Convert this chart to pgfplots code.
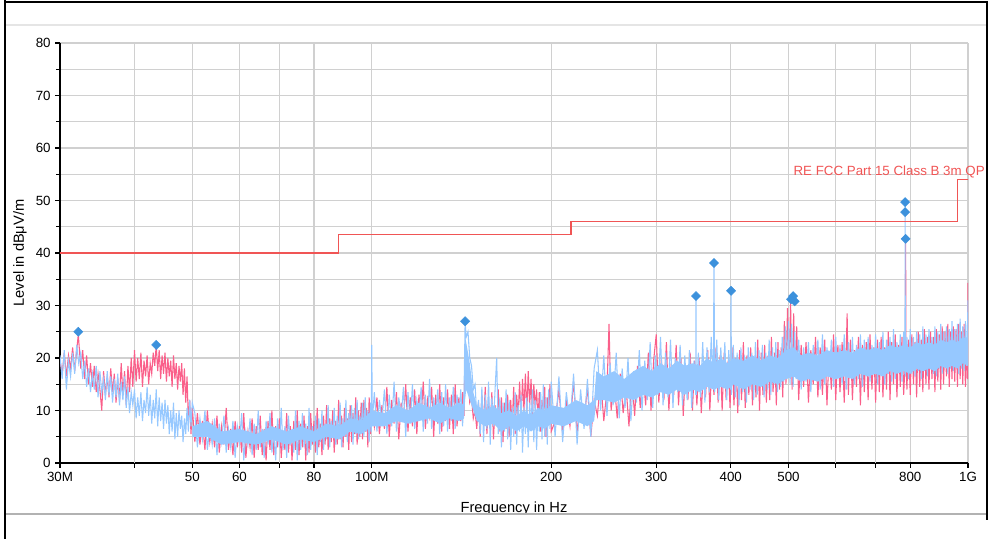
\documentclass[border=0pt]{standalone}
\usepackage{fontspec}
\setmainfont{Liberation Sans}
\usepackage{pgfplots}
\pgfplotsset{compat=1.18}
\definecolor{limred}{RGB}{240,85,85}
\definecolor{pinkt}{RGB}{250,95,138}
\definecolor{bluet}{RGB}{150,200,255}
\definecolor{markb}{RGB}{60,145,220}
\definecolor{gridc}{RGB}{208,208,208}
\begin{document}
\begin{tikzpicture}
\useasboundingbox (0,0) rectangle (741pt,-404.25pt);
\begin{axis}[
 at={(45pt,-347.25pt)}, anchor=south west,
 scale only axis, width=681pt, height=315pt,
 xmode=log, xmin=30, xmax=1000, ymin=0, ymax=80,
 axis x line*=bottom, axis y line*=left,
 axis line style={black, line width=0.9pt, -},
 xtick={30,50,60,80,100,200,300,400,500,800,1000},
 xticklabels={30M,50,60,80,100M,200,300,400,500,800,1G},
 extra x ticks={40,70,600,700},
 extra x tick labels={},
 extra x tick style={grid=major},
 minor xtick={},
 ytick={0,10,...,80},
 minor ytick={5,15,...,75},
 grid=both,
 major grid style={draw=gridc, line width=1pt},
 minor grid style={draw=gridc, line width=1pt},
 tick align=outside,
 major tick length=3.5pt, minor tick length=3pt,
 tick style={draw=black, line width=0.8pt},
 ticklabel style={font=\fontsize{10}{12}\selectfont},
 /pgf/number format/assume math mode=true,
 xlabel={Frequency in Hz}, ylabel={Level in dBμV/m},
 label style={font=\fontsize{11}{13}\selectfont},
 xlabel style={at={(axis description cs:0.5,-0.1167)}, anchor=base},
 ylabel style={at={(axis description cs:-0.044,0.5)}, anchor=center},
]
% pink trace
\addplot[draw=pinkt, line width=0.8pt] coordinates {
(30,19.5)(30.25,17)(30.5,21)(30.75,16.5)(31,20.5)(31.25,18)(31.5,22)(31.75,17.5)(32,21.5)(32.2,24.5)(32.5,18)(32.75,21.5)(33,16)(33.25,20.5)(33.5,15)(33.75,19)(34,14.5)(34.25,18.5)(34.5,13.5)(34.75,17)(35,14)(35.25,10)(35.5,17.5)(35.75,13)(36,16.5)(36.25,12.5)(36.5,18)(36.75,13.5)(37,17)(37.25,11.5)(37.5,16)(37.75,12)(38,19)(38.25,13)(38.5,17.5)(38.75,11)(39,18.5)(39.25,13.5)(39.5,20)(39.75,14.5)(40,21.5)(40.25,15.5)(40.5,20)(40.75,16)(41,21)(41.25,14.5)(41.5,19.5)(41.75,16.5)(42,20.5)(42.25,15)(42.5,19)(42.75,17)(43,21)(43.25,18.5)(43.5,22.5)(43.75,17.5)(44,21.5)(44.25,16)(44.5,20.5)(44.75,17)(45,21)(45.25,15.5)(45.5,20)(45.75,16.5)(46,19.5)(46.25,14.5)(46.5,20.5)(46.75,16)(47,19)(47.25,14)(47.5,18.5)(47.75,15.5)(48,19)(48.25,13)(48.5,18)(48.75,11.5)(49,16.5)(49.25,8)(49.5,12)(49.75,5.5)(50,10.5)
(50.5,4)(51,9.5)(51.5,3.5)(52,8)(52.5,2.5)(53,10)(53.5,4)(54,7.5)(54.5,3)(55,9)(55.5,2)(56,7)(56.5,3.5)(57,10.5)(57.5,2.5)(58,6.5)(58.5,1.5)(59,8)(59.5,3)(60,7)(60.5,2)(61,9.5)(61.5,1)(62,6)(62.5,3)(63,8.5)(63.5,1)(64,7)(64.5,2.5)(65,9)(65.5,1.5)(66,6.5)(66.5,0.5)(67,8)(67.5,2.5)(68,10)(68.5,1.5)(69,7)(69.5,3)(70,8.5)(70.5,1)(71,6)(71.5,2.5)(72,9.5)(72.5,2)(73,7)(73.5,0.5)(74,8)(74.5,2.5)(75,10)(75.5,1.5)(76,7.5)(76.5,3)(77,9)(77.5,0.5)(78,7)(78.5,2)(79,9.5)(79.5,3.5)(80,8)(80.5,2)(81,10.5)(81.5,3)(82,7.5)(82.5,1.5)(83,9)(83.5,3.5)(84,11)(84.5,2.5)(85,8.5)(85.5,4)(86,10)(86.5,2)(87,8)(87.5,3.5)(88,12)(88.5,4.5)(89,9)(89.5,3)(90,10.5)(90.5,5)(91,8.5)(91.5,2.5)(92,11)(92.5,4)(93,9.5)(93.5,5.5)(94,12.5)(94.5,3.5)(95,10)(95.5,5)(96,11.5)(96.5,4.5)(97,12)(97.5,6)(98,10.5)(98.5,3)(99,12.5)(99.5,5.5)(100,11)
(101,7)(102,12.5)(103,5.5)(104,11)(105,6.5)(106,14.5)(107,5)(108,12)(109,7.5)(110,13.5)(111,4.5)(112,11.5)(113,8)(114,15)(115,6)(116,12.5)(117,7)(118,14)(119,5.5)(120,13)(121,8.5)(122,15.5)(123,6.5)(124,12)(125,9)(126,14.5)(127,5)(128,13)(129,7.5)(130,15)(131,6)(132,12.5)(133,8)(134,14)(135,6.5)(136,13)(137,5.5)(138,15)(139,7)(140,12.5)(141,8)(142,13.5)(142.8,9)(143.2,18)(144,15)(145,17)(146,11.5)(147,12.5)(148,8.5)(149,10)(150,6.5)(151,11.5)(152,5)(153,13)(154,7)(155,14.5)(156,5.5)(157,12)(158,6.5)(159,13.5)(160,4.5)(161,11)(162,7.5)(163,14)(164,6)(165,12.5)(166,4)(167,11.5)(168,6.5)(169,13)(170,5)(171,12)(172,7)(173,14.5)(174,5.5)(175,13)(176,9)(177,15.5)(178,8.5)(179,16)(180,10)(181,17)(182,9.5)(183,17.5)(184,11)(185,16)(186,9)(187,15)(188,10.5)(189,14)(190,8)(191,13.5)(192,6)(193,12)(194,9)(195,14.5)(196,5)(197,12.5)(198,7.5)(199,15)(200,6)
(203,8)(206,14)(209,5.5)(212,12)(215,7)(218,15.5)(221,6)(224,11)(227,8)(230,14.5)(233,5)(236,12)(239,9)(242,16)(245,8)(248,14)(250,26.5)(252,10)(255,15.5)(258,8.5)(261,17)(264,9.5)(267,14.5)(270,7)(273,16)(276,9)(279,18.5)(282,10.5)(285,17)(288,11)(291,21)(294,10)(297,19.5)(300,24.5)(303,11.5)(306,20)(309,12)(312,23)(315,10)(318,19)(321,13)(324,22.5)(327,11)(330,20)(333,9)(336,18.5)(339,12)(342,21)(345,10)(348,19.5)(351,11)(354,20)(357,9.5)(360,18)(363,12.5)(366,21.5)(369,10)(372,19)(375,13)(378,22)(381,11.5)(384,20.5)(387,10)(390,21)(393,12)(396,19.5)(399,10.5)(402,22)(405,11)(408,20)(411,9.5)(414,21.5)(417,12)(420,23)(423,10.5)(426,20.5)(429,13)(432,22)(435,11)(438,20)(441,12.5)(444,23.5)(447,10)(450,21)(453,13)(456,22.5)(459,11.5)(462,20.5)(465,12)(468,24)(471,13.5)(474,21)(477,11)(480,23)(483,14)(486,22)(489,12.5)(492,27)(495,15)(498,29.5)(501,17)(504,30.5)(507,14)(510,28.5)(513,16.5)(516,26)
(520,12)(525,22.5)(530,14.5)(535,23)(540,11.5)(545,21.5)(550,15)(555,24)(560,12.5)(565,22)(570,13)(575,23.5)(580,11)(585,21)(590,14)(595,24.5)(600,12)(605,22.5)(610,13.5)(615,23)(620,11.5)(625,22)(627,28.5)(630,13)(635,23.5)(640,12)(645,21.5)(650,14.5)(655,24)(660,11)(665,22.5)(670,13.5)(675,23)(680,12)(685,24.5)(690,14)(695,22)(700,11.5)(705,23.5)(710,13.5)(715,24)(720,12.5)(725,22)(730,14)(735,25)(740,12)(745,23)(750,15)(755,24.5)(760,12.5)(765,22.5)(770,14.5)(775,24)(780,13)(785,20)(786,42.7)(787,19)(790,14)(795,23.5)(800,13)(805,24.5)(810,15)(815,23)(820,12.5)(825,25)(830,14.5)(835,23.5)(840,13.5)(845,25.5)(850,15)(855,24)(860,14)(865,25)(870,16)(875,24)(880,13.5)(885,25.5)(890,15.5)(895,24.5)(900,14)(905,26)(910,15)(915,25)(920,16.5)(925,26.5)(930,14.5)(935,25)(940,16)(945,26)(950,15.5)(955,25.5)(960,14.5)(965,26.5)(970,16)(975,25)(980,15)(985,26.5)(990,14.5)(995,22)(998,16)(1000,34.3)
};
% blue core band (dense part of the blue trace)
\addplot[fill=bluet, draw=none] coordinates {
(50,7)(53,8)(56,6)(60,6.5)(64,5.5)(68,7)(72,6)(76,7)(80,6)(84,7.5)(88,7)(92,8.5)(96,8)(100,10)(105,9.5)(110,11)(115,10)(120,11.5)(125,10.5)(130,11.5)(135,10.5)(140,11.5)(142.8,11)(143.4,24)(144,23)(146,19)(148,13.5)(150,11)(155,10)(160,11)(165,9.5)(170,10)(175,9)(180,10)(185,9)(190,10.5)(195,10)(200,11)(210,10.5)(220,12)(230,11)(236,12)(238,17.5)(245,16.5)(255,17.5)(265,16)(275,17.5)(285,18.5)(295,17.5)(305,19)(315,18)(325,19.5)(335,18.5)(345,19)(355,18.5)(365,20)(375,19)(385,20)(395,19)(405,20)(420,19.5)(435,20.5)(450,19.5)(465,20.5)(480,20)(495,21.5)(510,22)(525,20.5)(540,21)(560,20.5)(580,21.5)(600,21)(620,21.5)(640,21)(660,22)(680,21.5)(700,22)(720,21.5)(740,22.5)(760,22)(780,22.5)(800,22)(820,23)(840,22.5)(860,23)(880,22.5)(900,23.5)(920,23)(940,23.5)(960,23)(980,24)(1000,23.5)
(1000,18.5)(980,19)(960,18)(940,18.5)(920,18)(900,18.5)(880,17.5)(860,18)(840,17.5)(820,18)(800,17)(780,17.5)(760,17)(740,17.5)(720,16.5)(700,17)(680,16.5)(660,17)(640,16)(620,16.5)(600,16)(580,16.5)(560,15.5)(540,16)(525,15.5)(510,16.5)(495,16)(480,15)(465,15.5)(450,14.5)(435,15)(420,14)(405,15)(395,14)(385,14.5)(375,14)(365,14.5)(355,13.5)(345,14)(335,13)(325,14)(315,13)(305,13.5)(295,12.5)(285,13)(275,12)(265,12.5)(255,11.5)(245,12)(238,12)(236,8)(230,7)(220,8)(210,7)(200,7.5)(195,6.5)(190,7)(185,6)(180,7)(175,6)(170,7)(165,6)(160,7.5)(155,7)(150,8)(148,10)(146,12)(144,14)(143.4,12)(142.8,8.5)(140,8)(135,8.5)(130,7.5)(125,8.5)(120,8)(115,7.5)(110,8)(105,7)(100,7)(96,5.5)(92,6)(88,4.5)(84,5)(80,4)(76,4.5)(72,3.5)(68,4.5)(64,3.5)(60,4)(56,3.5)(53,5)(50,5)
} --cycle;
% blue trace
\addplot[draw=bluet, line width=0.8pt] coordinates {
(30,20.5)(30.25,16)(30.5,21.5)(30.75,14)(31,19.5)(31.25,16.5)(31.5,21)(31.75,17)(32,22.5)(32.25,19)(32.5,21)(32.75,16)(33,19.5)(33.25,14.5)(33.5,18)(33.75,13.5)(34,17)(34.25,14)(34.5,18.5)(34.75,12.5)(35,17.5)(35.25,13.5)(35.5,16)(35.75,12)(36,17.5)(36.25,13)(36.5,16.5)(36.75,11.5)(37,16)(37.25,12.5)(37.5,17)(37.75,11)(38,15.5)(38.25,12)(38.5,16.5)(38.75,10.5)(39,14.5)(39.25,9.5)(39.5,13.5)(39.75,11)(40,14)(40.25,8.5)(40.5,12.5)(40.75,9)(41,13.5)(41.25,8)(41.5,12)(41.75,9.5)(42,14.5)(42.25,9)(42.5,13)(42.75,7.5)(43,12)(43.25,8.5)(43.5,14)(43.75,7)(44,12.5)(44.25,8)(44.5,11.5)(44.75,6.5)(45,12)(45.25,7.5)(45.5,11)(45.75,5.5)(46,10)(46.25,6)(46.5,11.5)(46.75,4.5)(47,9.5)(47.25,5)(47.5,10)(47.75,6.5)(48,9)(48.25,4)(48.5,8.5)(48.75,5.5)(49,10.5)(49.25,6)(49.5,12)(49.75,7)(50,11.5)
(50.5,9.5)(51,3)(51.5,8.5)(52,4.5)(52.5,10)(53,2.5)(53.5,7)(54,3.5)(54.5,8.5)(55,1.5)(55.5,7.5)(56,4)(56.5,9)(57,2)(57.5,6.5)(58,3)(58.5,8)(59,1)(59.5,7)(60,4)(60.5,9.5)(61,0.5)(61.5,6)(62,3.5)(62.5,8.5)(63,1.5)(63.5,7.5)(64,2.5)(64.5,10)(65,3)(65.5,6.5)(66,1)(66.5,8)(67,3.5)(67.5,9.5)(68,2)(68.5,6)(69,0.5)(69.5,8.5)(70,3)(70.5,10.5)(71,2.5)(71.5,7)(72,1)(72.5,9)(73,3.5)(73.5,6.5)(74,2)(74.5,10)(75,0.5)(75.5,8)(76,2.5)(76.5,9.5)(77,3)(77.5,7.5)(78,1.5)(78.5,10.5)(79,2.5)(79.5,7)(80,3.5)(80.5,9)(81,1.5)(81.5,8.5)(82,4)(82.5,10)(83,2.5)(83.5,7.5)(84,4.5)(84.5,11)(85,3)(85.5,8)(86,5)(86.5,10.5)(87,3.5)(87.5,9)(88,4.5)(88.5,11.5)(89,3)(89.5,8.5)(90,5)(90.5,12)(91,4)(91.5,9.5)(92,6)(92.5,11)(93,3.5)(93.5,10.5)(94,5.5)(94.5,12)(95,4.5)(95.5,9)(96,6.5)(96.5,11.5)(97,5)(97.5,12.5)(98,6)(98.5,10)(99,4)(99.5,11.5)(99.8,6)(100,22.5)(100.2,8)
(101,13.5)(102,6)(103,12)(104,8)(105,14)(106,5.5)(107,13)(108,7)(109,15.5)(110,6)(111,12.5)(112,8.5)(113,14.5)(114,5)(115,13.5)(116,7.5)(117,15)(118,6.5)(119,12)(120,9)(121,14.5)(122,6)(123,13)(124,7.5)(125,16)(126,6.5)(127,12.5)(128,8.5)(129,14)(130,5.5)(131,13.5)(132,7)(133,15)(134,6)(135,12.5)(136,8)(137,14.5)(138,6.5)(139,13)(140,8.5)(141,14)(142,7)(142.8,13.5)(143.4,26.8)(144,24)(145,25)(146,20)(147,18.5)(148,14)(149,15)(150,9)(151,12)(152,5.5)(153,14.5)(154,4)(155,13)(156,6.5)(157,15.5)(158,3.5)(159,12.5)(160,7)(161,14)(162,20)(163,5.5)(164,12.5)(165,3)(166,11.5)(167,6)(168,14)(169,4.5)(170,12)(171,2.5)(172,10.5)(173,5)(174,13.5)(175,3.5)(176,11)(177,6)(178,13)(179,2)(180,10.5)(181,5.5)(182,12.5)(183,3)(184,11.5)(185,6.5)(186,14)(187,4)(188,12)(189,2.5)(190,10.5)(191,6)(192,13.5)(193,4.5)(194,15)(195,5)(196,12.5)(197,3.5)(198,14)(199,6.5)(200,15.5)
(203,5)(206,16.5)(209,4)(212,13.5)(215,7.5)(218,17)(221,3.5)(224,14)(227,6.5)(230,16)(233,5)(236,18)(239,21.5)(242,10)(245,20.5)(248,9)(251,19)(254,11)(257,21)(260,8.5)(263,18)(266,10.5)(269,20)(272,8)(275,17.5)(278,11.5)(281,21.5)(284,10)(287,19.5)(290,12)(293,23)(296,10.5)(299,20.5)(302,13)(305,24)(308,11)(311,21)(314,12.5)(317,23.5)(320,10.5)(323,20)(326,13.5)(329,22.5)(332,11)(335,20.5)(338,12)(341,21.5)(344,10.5)(347,19.5)(349.5,13)(349.8,31.8)(350.1,13)(353,21)(356,12.5)(359,23)(362,11.5)(365,22)(368,13.5)(371,24)(374,14)(375,38.1)(376,13.5)(379,23.5)(382,12)(385,22)(388,14.5)(391,23)(394,12)(397,21.5)(400,14)(400.5,32.8)(401,13)(404,22.5)(407,12.5)(410,21)(413,11)(416,22)(419,13.5)(422,20.5)(425,11.5)(428,22)(431,14)(434,21)(437,12)(440,23)(443,13)(446,21.5)(449,14.5)(452,22.5)(455,12.5)(458,21)(461,14)(464,23.5)(467,13)(470,22)(473,15)(476,23)(479,13.5)(482,21.5)(485,14.5)(488,24)(491,15.5)(494,26)(497,16)(500,27)(503,15)(506,26.5)(509,14.5)(512,25)(515,16)
(520,23.5)(525,14)(530,22)(535,15.5)(540,23)(545,13.5)(550,22.5)(555,16)(560,23.5)(565,14)(570,24.5)(575,15)(580,22)(585,16.5)(590,23.5)(595,14.5)(600,24)(605,16)(610,22.5)(615,15)(620,24.5)(625,14)(630,23)(635,16.5)(640,24)(645,15)(650,22.5)(655,16)(660,24.5)(665,14.5)(670,23.5)(675,16.5)(680,24)(685,15.5)(690,22.5)(695,17)(700,24.5)(705,15)(710,23)(715,16.5)(720,25)(725,15)(730,23.5)(735,17)(740,24)(745,15.5)(750,25.5)(755,16)(760,23)(765,17.5)(770,24.5)(775,15.5)(780,25)(784,17)(784.5,49.7)(785,16.5)(790,24)(795,16)(800,25.5)(805,17)(810,24)(815,16.5)(820,25)(825,17.5)(830,24.5)(835,16)(840,26)(845,17.5)(850,24.5)(855,16.5)(860,25.5)(865,18)(870,24)(875,17)(880,26)(885,16.5)(890,25)(895,18)(900,26.5)(905,17)(910,25)(915,18.5)(920,26)(925,17)(930,25.5)(935,18)(940,27)(945,17.5)(950,25.5)(955,18.5)(960,26.5)(965,17)(970,27.5)(975,18)(980,26)(985,17.5)(990,27)(995,18.5)(1000,31)
};
% limit line
\addplot[color={rgb,255:red,240;green,85;blue,85}, line width=1.2pt, line cap=rect] table[row sep=\\] {
x y\\ 30 40\\ 88 40\\ 88 43.5\\ 216 43.5\\ 216 46\\ 960 46\\ 960 54\\ 1000 54\\
};
% peak markers
\addplot[only marks, mark=square*, mark size=2.4pt, mark options={rotate=45, fill=markb, draw=markb}] coordinates {
(32.2,25)(43.5,22.5)(143.4,27)(349.8,31.8)(375,38.1)(400.5,32.8)(505,31.2)(509,31.8)(512,30.8)(784.5,49.7)(784.5,47.8)(786,42.7)};
\coordinate (lim) at (axis cs:1000,54.7);
\end{axis}
\fill[white] (4.6pt,-386.2pt) rectangle (741pt,-404.25pt);
\draw[black!30, line width=1pt] (4pt,-385.5pt) -- (739.9pt,-385.5pt);
\draw[black!10, line width=1.2pt] (4pt,-18.75pt) -- (739.9pt,-18.75pt);
\draw[black, line width=1.5pt] (4pt,0pt) -- (4pt,-404.25pt);
\draw[black, line width=1.5pt] (3.25pt,-1.3pt) -- (740.6pt,-1.3pt);
\draw[black, line width=1.5pt] (739.9pt,-0.6pt) -- (739.9pt,-390pt);
\node[anchor=base east, text=limred, font=\fontsize{10}{12}\selectfont, inner sep=0pt] at ([xshift=12.75pt]lim) {RE FCC Part 15 Class B 3m QP};
\end{tikzpicture}
\end{document}
